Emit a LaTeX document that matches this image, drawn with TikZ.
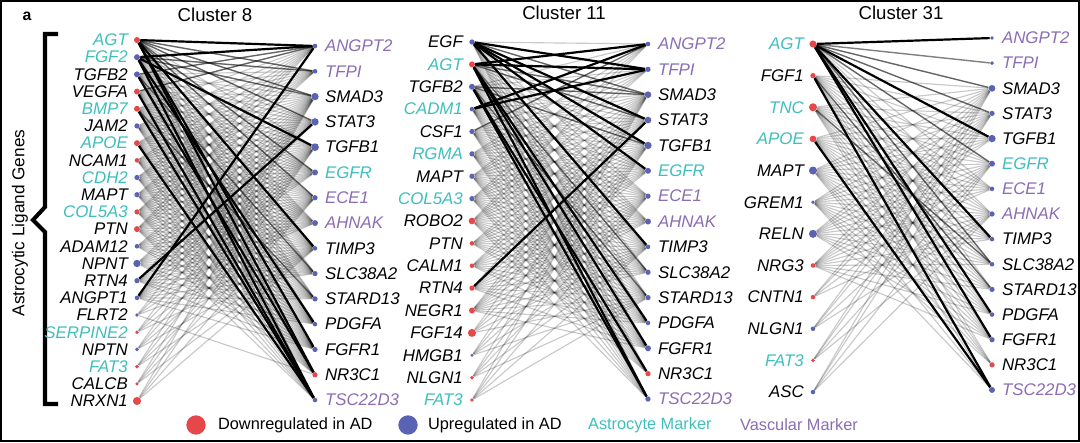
\documentclass[tikz,border=0pt]{standalone}
\usepackage{fontspec}
\setmainfont{Liberation Sans}
\usetikzlibrary{backgrounds}

\definecolor{dn}{HTML}{E5484A}
\definecolor{up}{HTML}{5A63B3}
\definecolor{ast}{HTML}{3FBEBE}
\definecolor{vas}{HTML}{8B6DB3}
\definecolor{blk}{HTML}{000000}

\tikzset{
  dot/.style={circle, inner sep=0pt, draw=none},
  gene/.style={font=\fontsize{9.6}{10}\selectfont\itshape, inner sep=1pt},
  legend/.style={font=\fontsize{9.3}{10}\selectfont, inner sep=1pt},
  title/.style={font=\fontsize{10.6}{12}\selectfont},
  edgefaint/.style={line width=0.65pt, draw=black, opacity=0.21},
  edgemid/.style={line width=0.8pt, draw=black, opacity=0.5},
  edgestrong/.style={line width=1.25pt, draw=black},
}

\begin{document}
\begin{tikzpicture}[x=0.02cm, y=-0.02cm]
\useasboundingbox (0,0) rectangle (1080,443);
\draw[line width=1.2pt] (1,1) rectangle (1079,441);

\node[font=\fontsize{9}{10}\selectfont\bfseries] (panel) at (27,16) {a};
\node[title] (h8) at (215,15) {Cluster 8};
\node[title] (h11) at (564,13) {Cluster 11};
\node[title] (h31) at (901,13) {Cluster 31};

% bracket and axis label
\draw[line width=2.3pt] (58,34) -- (45,34) -- (45,207) -- (33,220) -- (45,232) -- (45,404) -- (58,404);
\node[rotate=90, font=\fontsize{9.8}{11}\selectfont] (axis) at (20,223) {Astrocytic Ligand Genes};

% cluster 8
\foreach \g/\dc/\s/\tc [count=\i] in {AGT/dn/3.4/ast, FGF2/up/3.4/ast, TGFB2/up/3.4/blk,
    VEGFA/dn/3.4/blk, BMP7/dn/3.4/ast, JAM2/up/3.0/blk, APOE/dn/3.4/ast, NCAM1/dn/2.6/blk,
    CDH2/up/3.0/ast, MAPT/up/3.0/blk, COL5A3/dn/3.0/ast, PTN/dn/3.4/blk, ADAM12/up/2.6/blk,
    NPNT/up/4.2/blk, RTN4/up/3.0/blk, ANGPT1/up/2.6/blk, FLRT2/up/2.2/blk, SERPINE2/dn/2.2/ast,
    NPTN/up/2.2/blk, FAT3/dn/2.2/ast, CALCB/dn/2.0/blk, NRXN1/dn/4.6/blk} {
  \node[dot, fill=\dc, minimum size=\s pt] (l8-\i) at (137,{40+(\i-1)*17.19}) {};
  \node[gene, text=\tc, anchor=east] (t8-\i) at ([xshift=-4pt]l8-\i.center) {\g};
}
\foreach \g/\dc/\s/\tc [count=\i] in {ANGPT2/up/2.6/vas, TFPI/up/2.6/vas, SMAD3/up/4.2/blk,
    STAT3/up/4.2/blk, TGFB1/up/4.4/blk, EGFR/up/3.4/ast, ECE1/up/3.0/vas, AHNAK/up/3.4/vas,
    TIMP3/up/2.6/blk, SLC38A2/up/3.0/blk, STARD13/up/3.0/blk, PDGFA/up/2.6/blk,
    FGFR1/up/3.0/blk, NR3C1/dn/3.0/blk, TSC22D3/up/2.6/vas} {
  \node[dot, fill=\dc, minimum size=\s pt] (r8-\i) at (315,{46+(\i-1)*25.29}) {};
  \node[gene, text=\tc, anchor=west] (u8-\i) at ([xshift=4.5pt]r8-\i.center) {\g};
}

% cluster 11
\foreach \g/\dc/\s/\tc [count=\i] in {EGF/up/3.0/blk, AGT/dn/3.4/ast, TGFB2/up/3.4/blk,
    CADM1/up/2.6/ast, CSF1/up/3.0/blk, RGMA/up/3.0/ast, MAPT/up/3.0/blk, COL5A3/up/3.0/ast,
    ROBO2/dn/3.8/blk, PTN/dn/2.6/blk, CALM1/dn/2.6/blk, RTN4/dn/3.0/blk, NEGR1/dn/3.4/blk,
    FGF14/dn/4.6/blk, HMGB1/up/1.8/blk, NLGN1/dn/2.2/blk, FAT3/dn/2.2/ast} {
  \node[dot, fill=\dc, minimum size=\s pt] (l11-\i) at (472,{42+(\i-1)*22.375}) {};
  \node[gene, text=\tc, anchor=east] (t11-\i) at ([xshift=-4pt]l11-\i.center) {\g};
}
\foreach \g/\dc/\s/\tc [count=\i] in {ANGPT2/up/2.6/vas, TFPI/up/3.0/vas, SMAD3/up/3.8/blk,
    STAT3/up/3.8/blk, TGFB1/up/4.2/blk, EGFR/up/3.4/ast, ECE1/up/3.0/vas, AHNAK/up/3.4/vas,
    TIMP3/up/2.6/blk, SLC38A2/up/3.0/blk, STARD13/up/3.0/blk, PDGFA/up/2.6/blk,
    FGFR1/up/3.4/blk, NR3C1/dn/3.0/blk, TSC22D3/up/3.0/vas} {
  \node[dot, fill=\dc, minimum size=\s pt] (r11-\i) at (648,{44+(\i-1)*25.36}) {};
  \node[gene, text=\tc, anchor=west] (u11-\i) at ([xshift=4.5pt]r11-\i.center) {\g};
}

% cluster 31
\foreach \g/\dc/\s/\tc [count=\i] in {AGT/dn/4.0/ast, FGF1/dn/3.0/blk, TNC/dn/4.6/ast,
    APOE/dn/3.8/ast, MAPT/up/4.6/blk, GREM1/up/2.2/blk, RELN/up/4.6/blk, NRG3/dn/2.6/blk,
    CNTN1/dn/2.6/blk, NLGN1/up/2.6/blk, FAT3/dn/2.2/ast, ASC/up/2.6/blk} {
  \node[dot, fill=\dc, minimum size=\s pt] (l31-\i) at (813,{44+(\i-1)*31.64}) {};
  \node[gene, text=\tc, anchor=east] (t31-\i) at ([xshift=-4pt]l31-\i.center) {\g};
}
\foreach \g/\dc/\s/\tc [count=\i] in {ANGPT2/up/2.2/vas, TFPI/up/2.2/vas, SMAD3/up/3.8/blk,
    STAT3/up/3.0/blk, TGFB1/up/4.2/blk, EGFR/up/3.4/ast, ECE1/up/2.6/vas, AHNAK/up/3.0/vas,
    TIMP3/up/2.6/blk, SLC38A2/up/2.6/blk, STARD13/up/3.0/blk, PDGFA/up/2.6/blk,
    FGFR1/up/3.0/blk, NR3C1/dn/3.0/blk, TSC22D3/up/3.4/vas} {
  \node[dot, fill=\dc, minimum size=\s pt] (r31-\i) at (992,{38+(\i-1)*25.14}) {};
  \node[gene, text=\tc, anchor=west] (u31-\i) at ([xshift=4.5pt]r31-\i.center) {\g};
}

% interactions
\begin{scope}[on background layer]
  \foreach \l in {1,...,16} \foreach \r in {3,...,13} \draw[edgefaint] (l8-\l) -- (r8-\r);
  \foreach \l in {1,...,12} \foreach \r in {1,2,14,15} \draw[edgefaint] (l8-\l) -- (r8-\r);
  \foreach \l in {17,...,22} \foreach \r in {3,5,7,9} \draw[edgefaint] (l8-\l) -- (r8-\r);
  \draw[edgefaint] (l8-17) -- (r8-14);
  \foreach \l/\r in {1/2, 1/3, 1/4, 2/2, 2/3, 1/6, 1/7, 3/1, 4/1, 3/10, 5/11}
    \draw[edgemid] (l8-\l) -- (r8-\r);
  \foreach \l/\r in {1/1, 2/1, 16/1, 15/4, 2/5, 1/9, 2/12, 1/13, 1/14, 3/14, 2/15, 4/15, 5/15, 7/15}
    \draw[edgestrong] (l8-\l) -- (r8-\r);

  \foreach \l in {1,...,13} \foreach \r in {3,...,13} \draw[edgefaint] (l11-\l) -- (r11-\r);
  \foreach \l in {1,...,9} \foreach \r in {1,2,14,15} \draw[edgefaint] (l11-\l) -- (r11-\r);
  \foreach \l in {14,...,17} \foreach \r in {3,5,7,9,11} \draw[edgefaint] (l11-\l) -- (r11-\r);
  \foreach \l/\r in {1/3, 2/3, 2/4, 3/3, 3/5, 5/1, 2/10, 3/11}
    \draw[edgemid] (l11-\l) -- (r11-\r);
  \foreach \l/\r in {1/2, 1/4, 1/5, 1/6, 2/1, 2/2, 4/1, 4/2, 12/4, 1/9, 2/12, 2/13, 3/14, 2/15, 3/15}
    \draw[edgestrong] (l11-\l) -- (r11-\r);

  \foreach \l in {1,...,8} \foreach \r in {3,...,13} \draw[edgefaint] (l31-\l) -- (r31-\r);
  \foreach \l in {2,...,6} \foreach \r in {14,15} \draw[edgefaint] (l31-\l) -- (r31-\r);
  \foreach \l in {9,...,12} \foreach \r in {3,4,6,8} \draw[edgefaint] (l31-\l) -- (r31-\r);
  \foreach \l/\r in {1/2, 1/3, 1/4, 1/6, 1/10, 2/11, 3/10}
    \draw[edgemid] (l31-\l) -- (r31-\r);
  \foreach \l/\r in {1/1, 1/5, 1/9, 1/12, 1/13, 2/15, 4/15}
    \draw[edgestrong] (l31-\l) -- (r31-\r);
\end{scope}

% legend
\node[dot, fill=dn, minimum size=11pt] (kdn) at (196,425) {};
\node[legend, anchor=west] (tdn) at (216,425) {Downregulated in AD};
\node[dot, fill=up, minimum size=11pt] (kup) at (408,425) {};
\node[legend, anchor=west] (tup) at (426,425) {Upregulated in AD};
\node[legend, anchor=west, text=ast] (tast) at (586,425) {Astrocyte Marker};
\node[legend, anchor=west, text=vas] (tvas) at (738,425) {Vascular Marker};
\end{tikzpicture}
\end{document}
